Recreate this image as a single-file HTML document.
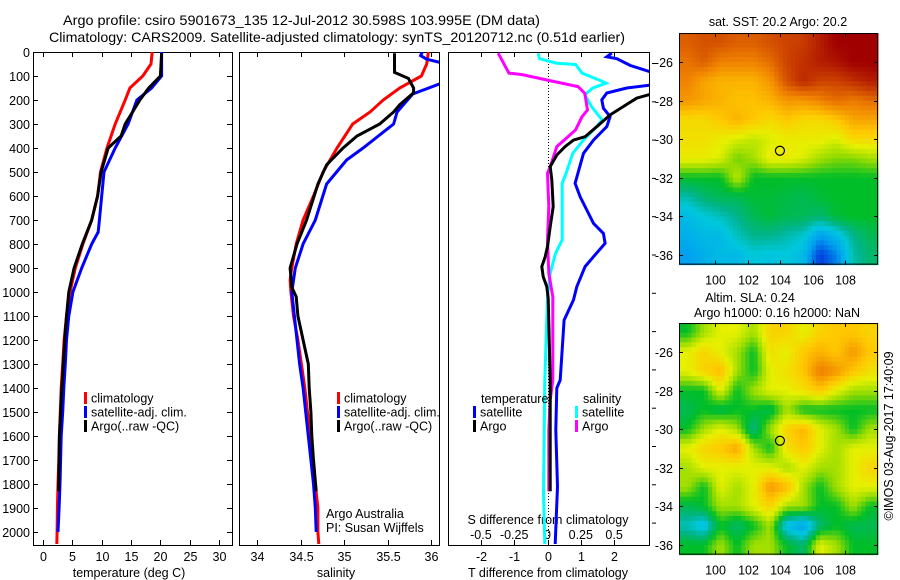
<!DOCTYPE html>
<html><head><meta charset="utf-8"><style>
html,body{margin:0;padding:0;background:#fff;}
svg{display:block;font-family:"Liberation Sans",Arial,sans-serif;}
text{fill:#000;}
</style></head><body>
<svg id="fig" width="900" height="580" viewBox="0 0 900 580" xmlns="http://www.w3.org/2000/svg">
<defs>
<clipPath id="c1"><rect x="33" y="52" width="199" height="493"/></clipPath>
<clipPath id="c2"><rect x="239" y="52" width="200" height="493"/></clipPath>
<clipPath id="c3"><rect x="448" y="52" width="201" height="493"/></clipPath>
</defs>
<text x="63" y="25" font-size="14" textLength="477" lengthAdjust="spacingAndGlyphs">Argo profile: csiro 5901673_135 12-Jul-2012 30.598S 103.995E (DM data)</text>
<text x="49" y="42" font-size="14" textLength="576" lengthAdjust="spacingAndGlyphs">Climatology: CARS2009. Satellite-adjusted climatology: synTS_20120712.nc (0.51d earlier)</text>
<g id="g"></g>
</svg>
<script>
// ---------- profile data ----------
const tClimDepth=[0,50,100,150,200,300,400,500,600,700,800,900,1000,1100,1200,1300,1400,1500,1600,1700,1800,1900,2000,2050];
const tClim=[18.6,18.4,17,14.8,14,12.3,10.9,9.8,9.3,8.3,6.8,5.5,4.6,4.0,3.6,3.35,3.1,2.95,2.8,2.7,2.55,2.45,2.4,2.35];
const tSatDepth=[0,100,150,200,300,400,500,600,700,750,800,900,1000,1100,1200,1300,1400,1500,1600,1700,1800,1900,2000];
const tSat=[20.2,20.2,18.5,16,14.5,12.3,10.4,10.0,9.6,9.4,8.3,6.6,5.1,4.4,4.0,3.8,3.55,3.35,3.1,3.0,2.9,2.75,2.55];
const tArgoDepth=[5,100,150,200,300,350,400,500,600,700,800,900,1000,1100,1200,1300,1400,1500,1600,1700,1830];
const tArgo=[20.2,20.0,18,16.5,14,13.3,11.1,9.9,9.3,8.3,6.7,5.3,4.4,4.0,3.7,3.45,3.2,3.0,2.8,2.75,2.65];
const sClimDepth=[0,50,100,150,200,250,300,400,500,600,700,800,900,950,1000,1100,1200,1300,1400,1500,1600,1700,1800,1900,2000,2050];
const sClim=[35.97,35.95,35.89,35.64,35.45,35.30,35.10,34.92,34.76,34.65,34.53,34.45,34.40,34.38,34.39,34.42,34.47,34.51,34.55,34.58,34.61,34.64,34.67,34.70,34.70,34.71];
const sSatDepth=[0,15,30,45,130,175,250,300,400,450,550,700,800,900,1000,1100,1200,1300,1400,1500,1600,1700,1800,1900,2000];
const sSat=[35.90,35.88,35.95,36.12,36.12,35.79,35.61,35.57,35.22,35.03,34.80,34.67,34.53,34.44,34.40,34.43,34.46,34.49,34.53,34.56,34.59,34.62,34.65,34.67,34.68];
const sArgoDepth=[5,85,110,150,170,220,250,300,350,400,470,550,700,800,900,980,1020,1100,1200,1300,1400,1500,1600,1700,1830];
const sArgo=[35.58,35.58,35.74,35.80,35.80,35.64,35.57,35.41,35.15,34.99,34.80,34.70,34.57,34.46,34.38,34.40,34.45,34.47,34.53,34.59,34.60,34.62,34.63,34.65,34.68];
// ---------- difference data ----------
const dSArgoDepth=[5,88,94,117,144,172,242,269,325,360,394,478,505,644,783,922,1020,1367,1450,1575,1830];
const dSArgo=[-0.37,-0.29,-0.19,0,0.23,0.28,0.30,0.26,0.21,0.14,0.07,0.02,0,0.01,0,0.01,0.04,0.04,0.02,0.01,0.01];
const dSSatDepth=[5,28,47,52,88,117,130,150,178,227,283,311,367,422,505,547,644,783,839,922,1020,1367,1839,2050];
const dSSat=[-0.07,-0.06,0.07,0.21,0.26,0.39,0.44,0.34,0.28,0.33,0.41,0.37,0.27,0.19,0.14,0.11,0.11,0.11,0.06,0.02,0,-0.02,-0.03,-0.02];
const dTSatDepth=[5,20,28,56,88,136,150,171,199,234,269,311,367,422,547,603,714,756,797,853,894,978,1033,1117,1367,1400,1575,1811,2050];
const dTSat=[1.93,1.78,2.08,2.48,3.2,3.2,2.38,1.78,1.63,1.68,1.88,1.78,1.38,1.08,0.83,0.98,1.38,1.68,1.73,1.38,1.13,0.88,0.78,0.5,0.38,0.28,0.25,0.3,0.23];
const dTArgoDepth=[172,192,227,262,311,353,367,394,429,478,533,644,728,811,853,894,936,978,1026,1367,1575,1830];
const dTArgo=[3.2,2.68,2.28,1.88,1.48,1.13,0.78,0.53,0.28,0.08,0.13,0.17,0.08,0,-0.07,-0.17,-0.13,-0.02,0.02,0.08,0.08,0.08];
// ---------- tick labels ----------
const depthTicks=[0,100,200,300,400,500,600,700,800,900,1000,1100,1200,1300,1400,1500,1600,1700,1800,1900,2000];
const tempTicks=[0,5,10,15,20,25,30];
const salTicks=[34,34.5,35,35.5,36];
const dTTicks=[-2,-1,0,1,2];
const dSTicks=[-0.5,-0.25,0,0.25,0.5];
const lonTicks=[100,102,104,106,108];
const latTicks=[-26,-28,-30,-32,-34,-36];
// ---------- map grids (colormap index 0..1), rows from -24.5 to -36.5, cols from 97.8 to 110 ----------
const sstGrid=[
[0.8,0.82,0.82,0.8,0.8,0.82,0.84,0.85,0.9,0.95,0.95,0.95],
[0.77,0.8,0.75,0.75,0.75,0.78,0.84,0.87,0.9,0.92,0.95,0.95],
[0.75,0.7,0.68,0.68,0.68,0.72,0.82,0.88,0.84,0.84,0.87,0.9],
[0.72,0.7,0.68,0.66,0.66,0.68,0.72,0.72,0.75,0.78,0.76,0.78],
[0.62,0.62,0.65,0.68,0.65,0.62,0.65,0.62,0.62,0.65,0.7,0.7],
[0.61,0.61,0.59,0.57,0.55,0.57,0.59,0.59,0.59,0.57,0.62,0.62],
[0.59,0.59,0.57,0.5,0.53,0.59,0.59,0.57,0.53,0.51,0.51,0.53],
[0.45,0.45,0.45,0.55,0.45,0.45,0.45,0.45,0.45,0.45,0.45,0.45],
[0.36,0.4,0.42,0.42,0.44,0.44,0.43,0.42,0.44,0.45,0.45,0.45],
[0.3,0.33,0.35,0.38,0.42,0.44,0.42,0.42,0.4,0.44,0.45,0.45],
[0.28,0.3,0.3,0.35,0.38,0.38,0.36,0.34,0.25,0.3,0.38,0.42],
[0.25,0.28,0.3,0.3,0.33,0.32,0.33,0.3,0.15,0.22,0.36,0.4]];
const slaGrid=[
[0.45,0.53,0.58,0.58,0.53,0.63,0.63,0.58,0.63,0.65,0.65,0.63],
[0.58,0.63,0.58,0.53,0.45,0.61,0.58,0.65,0.68,0.65,0.72,0.65],
[0.58,0.63,0.67,0.53,0.45,0.58,0.61,0.65,0.76,0.72,0.65,0.61],
[0.45,0.45,0.58,0.45,0.53,0.58,0.58,0.61,0.65,0.58,0.53,0.53],
[0.42,0.45,0.42,0.45,0.45,0.42,0.53,0.45,0.45,0.45,0.45,0.45],
[0.45,0.53,0.58,0.53,0.38,0.53,0.63,0.68,0.58,0.53,0.45,0.53],
[0.58,0.63,0.65,0.7,0.53,0.45,0.61,0.65,0.58,0.53,0.58,0.58],
[0.53,0.58,0.58,0.58,0.58,0.58,0.53,0.58,0.53,0.53,0.58,0.63],
[0.53,0.45,0.58,0.53,0.58,0.72,0.67,0.53,0.45,0.53,0.58,0.58],
[0.42,0.45,0.53,0.53,0.58,0.63,0.53,0.53,0.45,0.45,0.53,0.45],
[0.35,0.3,0.45,0.4,0.45,0.53,0.3,0.25,0.4,0.45,0.42,0.42],
[0.45,0.45,0.53,0.45,0.53,0.53,0.45,0.4,0.58,0.53,0.45,0.45]];
const argoLon=[103.995];
const argoLat=[-30.598];

const NS="http://www.w3.org/2000/svg";
const G=document.getElementById('g');
function el(tag,attrs,parent){const e=document.createElementNS(NS,tag);for(const k in attrs)e.setAttribute(k,attrs[k]);(parent||G).appendChild(e);return e;}
function txt(s,x,y,attrs,parent){const e=el('text',Object.assign({x:x,y:y,'font-size':12.5},attrs||{}),parent);e.textContent=s;return e;}

const yD=d=>52+d*0.24;
const xT=t=>43+t*5.87;
const xS=s=>257+(s-34)*87;
const xDT=t=>547.5+t*33.3;
const xDS=s=>547.5+s*133.2;
const xLon=l=>715+(l-100)*16.25;
const yLat=l=>62+(-26-l)*19.3;

function line(xs,ds,xf,color,clip,name){
  let p='';for(let i=0;i<xs.length;i++)p+=(i?'L':'M')+xf(xs[i]).toFixed(1)+' '+yD(ds[i]).toFixed(1);
  const e=el('path',{d:p,fill:'none',stroke:color,'stroke-width':3,'clip-path':'url(#'+clip+')'});
  
  
}

const frames=[[33,232,'temperature-panel-frame'],[239,439,'salinity-panel-frame'],[448,649,'difference-panel-frame']];
frames.forEach(f=>{const r=el('rect',{x:f[0]+0.5,y:52.5,width:f[1]-f[0],height:493,fill:'none',stroke:'#000','stroke-width':1});
});

depthTicks.forEach(d=>{const y=yD(d)+0.5;
  el('line',{x1:33,x2:38,y1:y,y2:y,stroke:'#000'});el('line',{x1:227,x2:232,y1:y,y2:y,stroke:'#000'});
  const t=txt(String(d),30,y+4.5,{'text-anchor':'end'});
  });
for(let y=63.5;y<=546;y+=38.3){el('line',{x1:652,x2:656,y1:y,y2:y,stroke:'#000'});}

function xticks(vals,xf,fmt,name){vals.forEach(v=>{const x=Math.round(xf(v))+0.5;
  el('line',{x1:x,x2:x,y1:52,y2:57,stroke:'#000'});el('line',{x1:x,x2:x,y1:540,y2:545,stroke:'#000'});
  const t=txt(fmt(v),x,561,{'text-anchor':'middle'});});}
xticks(tempTicks,xT,v=>String(v),'temperature-tick-label');
xticks(salTicks,xS,v=>String(v),'salinity-tick-label');
xticks(dTTicks,xDT,v=>String(v),'t-diff-tick-label');
dSTicks.forEach(v=>{const t=txt(String(v),xDS(v),539,{'text-anchor':'middle'});});

let a;
a=txt('temperature (deg C)',129,577,{'text-anchor':'middle'});
a=txt('salinity',336,577,{'text-anchor':'middle'});
a=txt('T difference from climatology',548,577,{'text-anchor':'middle'});
a=txt('S difference from climatology',548,524,{'text-anchor':'middle'});

a=el('line',{x1:548.5,x2:548.5,y1:52,y2:545,stroke:'#000','stroke-dasharray':'1 2'});

line(tClim,tClimDepth,xT,'#ff0000','c1','temperature-climatology-line');
line(tSat,tSatDepth,xT,'#0000ff','c1','temperature-satellite-line');
line(tArgo,tArgoDepth,xT,'#000000','c1','temperature-argo-line');
line(sClim,sClimDepth,xS,'#ff0000','c2','salinity-climatology-line');
line(sSat,sSatDepth,xS,'#0000ff','c2','salinity-satellite-line');
line(sArgo,sArgoDepth,xS,'#000000','c2','salinity-argo-line');
line(dSSat,dSSatDepth,xDS,'#00ffff','c3','s-diff-satellite-line');
line(dTSat,dTSatDepth,xDT,'#0000ff','c3','t-diff-satellite-line');
line(dSArgo,dSArgoDepth,xDS,'#ff00ff','c3','s-diff-argo-line');
line(dTArgo,dTArgoDepth,xDT,'#000000','c3','t-diff-argo-line');

function legend(x,y,color,label,name){const g=el('g',{});
  el('rect',{x:x,y:y-6,width:3,height:12,fill:color},g);txt(label,x+7,y+4.5,{},g);}
[['climatology','#ff0000'],['satellite-adj. clim.','#0000ff'],['Argo(..raw -QC)','#000000']].forEach((l,i)=>legend(84,398+i*14,l[1],l[0],'temperature-legend-entry'));
[['climatology','#ff0000'],['satellite-adj. clim.','#0000ff'],['Argo(..raw -QC)','#000000']].forEach((l,i)=>legend(337,398+i*14,l[1],l[0],'salinity-legend-entry'));
a=txt('temperature',481,403);
a=txt('salinity',583,403);
legend(473,412,'#0000ff','satellite','diff-legend-t-satellite');
legend(473,426,'#000000','Argo','diff-legend-t-argo');
legend(575,412,'#00ffff','satellite','diff-legend-s-satellite');
legend(575,426,'#ff00ff','Argo','diff-legend-s-argo');
a=txt('Argo Australia',326,518);
a=txt('PI: Susan Wijffels',326,532);

const cmStops=[[0,0,0,140],[0.15,0,60,220],[0.25,0,160,240],[0.33,0,200,220],[0.38,0,180,140],[0.45,0,190,40],[0.52,150,220,0],[0.58,230,240,0],[0.65,255,200,0],[0.75,240,130,0],[0.85,200,60,0],[0.95,160,0,0],[1,140,0,0]];
function cmap(v){v=Math.max(0,Math.min(1,v));for(let i=1;i<cmStops.length;i++){if(v<=cmStops[i][0]){const a=cmStops[i-1],b=cmStops[i],t=(v-a[0])/(b[0]-a[0]);
  return 'rgb('+[1,2,3].map(k=>Math.round(a[k]+(b[k]-a[k])*t)).join(',')+')';}}return 'rgb(140,0,0)';}
function sample(grid,r,c){const R=grid.length,C=grid[0].length;r=Math.max(0,Math.min(R-1,r));c=Math.max(0,Math.min(C-1,c));
  const r0=Math.floor(r),c0=Math.floor(c),r1=Math.min(R-1,r0+1),c1=Math.min(C-1,c0+1),fr=r-r0,fc=c-c0;
  return grid[r0][c0]*(1-fr)*(1-fc)+grid[r0][c1]*(1-fr)*fc+grid[r1][c0]*fr*(1-fc)+grid[r1][c1]*fr*fc;}
function map(grid,dy,name){
  const g=el('g',{transform:'translate(0,'+dy+')'});
  const x0=679,x1=878,top=yLat(-24.5),bot=yLat(-36.5);
  const R=grid.length,C=grid[0].length,sub=4;
  const cw=(x1-x0)/(C*sub),rh=(bot-top)/(R*sub);
  for(let i=0;i<R*sub;i++)for(let j=0;j<C*sub;j++){
    const v=sample(grid,(i+0.5)/sub-0.5,(j+0.5)/sub-0.5);
    const cell=el('rect',{x:(x0+j*cw).toFixed(2),y:(top+i*rh).toFixed(2),width:(cw+0.5).toFixed(2),height:(rh+0.5).toFixed(2),fill:cmap(v)},g);
    
    
  }
  el('rect',{x:x0+0.5,y:top+0.5,width:x1-x0-1,height:bot-top-1,fill:'none',stroke:'#000'},g);
  lonTicks.forEach(l=>{const x=Math.round(xLon(l))+0.5;el('line',{x1:x,x2:x,y1:top,y2:top+4,stroke:'#000'},g);el('line',{x1:x,x2:x,y1:bot-4,y2:bot,stroke:'#000'},g);
    const t=txt(String(l),x,bot+20,{'text-anchor':'middle'},g);});
  latTicks.forEach(l=>{const y=Math.round(yLat(l))+0.5;el('line',{x1:x0,x2:x0+4,y1:y,y2:y,stroke:'#000'},g);el('line',{x1:x1-4,x2:x1,y1:y,y2:y,stroke:'#000'},g);
    const t=txt(String(l),673,y+4.5,{'text-anchor':'end'},g);});
  const m=el('circle',{cx:xLon(argoLon[0]),cy:yLat(argoLat[0]),r:4.5,fill:'none',stroke:'#000','stroke-width':1.2},g);
  
}
map(sstGrid,0,'sst-map');
map(slaGrid,290,'sla-map');
a=txt('sat. SST: 20.2 Argo: 20.2',778,26,{'text-anchor':'middle'});
a=txt('Altim. SLA: 0.24',750,302,{'text-anchor':'middle'});
a=txt('Argo h1000: 0.16 h2000: NaN',777,317,{'text-anchor':'middle'});
a=txt('©IMOS 03-Aug-2017 17:40:09',0,0,{'text-anchor':'middle',transform:'translate(893,436) rotate(-90)'});
</script>
</body></html>
